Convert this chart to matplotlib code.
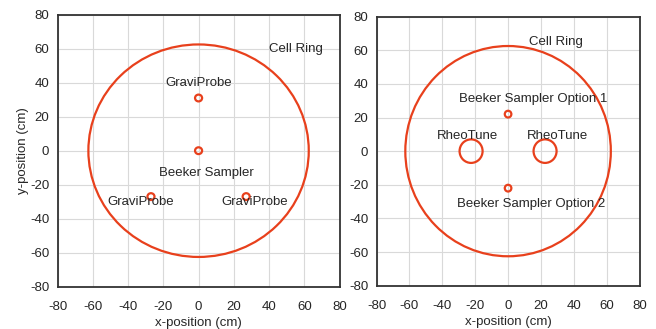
import matplotlib.pyplot as plt
from matplotlib.patches import Circle

plt.rcParams['font.family'] = ['Liberation Sans', 'DejaVu Sans']
plt.rcParams['axes.unicode_minus'] = False

# Layout of the measurement cell (cm)
ring_center = (0, 0)
ring_radius = 62.5

# Left panel: GraviProbes and beeker sampler
left_x = [0, 0, -27, 27]
left_y = [31, 0, -27, -27]
left_r = [2, 2, 2, 2]
left_labels = ['GraviProbe', 'Beeker Sampler', 'GraviProbe', 'GraviProbe']
left_label_x = [0, 4.5, -33, 32]
left_label_y = [40, -13, -30, -30]

# Right panel: RheoTunes and beeker sampler options
right_x = [0, 0, -22.5, 22.5]
right_y = [22, -22, 0, 0]
right_r = [2, 2, 7, 7]
right_labels = ['Beeker Sampler Option 1', 'Beeker Sampler Option 2', 'RheoTune', 'RheoTune']
right_label_x = [15, 14, -24.5, 30]
right_label_y = [31, -31.5, 9, 9]

ticks = list(range(-80, 81, 20))
red = '#e8401c'
ink = '#262626'

fig = plt.figure(figsize=(6.56, 3.29), dpi=100)
ax1 = fig.add_axes([0.0877, 0.1286, 0.430, 0.8267])
ax2 = fig.add_axes([0.574, 0.1316, 0.401, 0.818])


def draw_panel(ax, xs, ys, rs, labels, lx, ly, ring_label_pos):
    ax.add_patch(Circle(ring_center, ring_radius, fill=False, ec=red, lw=1.6))
    for x, y, r in zip(xs, ys, rs):
        ax.add_patch(Circle((x, y), r, fill=False, ec=red, lw=1.6))
    for t, x, y in zip(labels, lx, ly):
        ax.text(x, y, t, ha='center', va='center', fontsize=9.5, color=ink)
    ax.text(*ring_label_pos, 'Cell Ring', ha='center', va='center', fontsize=9.5, color=ink)
    ax.set_xlim(-80, 80)
    ax.set_ylim(-80, 80)
    ax.set_xticks(ticks)
    ax.set_yticks(ticks)
    ax.grid(True, color='#d9d9d9', lw=0.8)
    ax.set_axisbelow(True)
    ax.tick_params(length=0, labelsize=9.5, colors=ink)
    ax.tick_params(axis='y', pad=6)
    ax.tick_params(axis='x', pad=10)
    for s in ax.spines.values():
        s.set_color('#333333')
        s.set_linewidth(1.3)
    ax.set_xlabel('x-position (cm)', fontsize=9.5, color=ink, labelpad=3)


draw_panel(ax1, left_x, left_y, left_r, left_labels, left_label_x, left_label_y, (55, 60))
ax1.set_ylabel('y-position (cm)', fontsize=9.5, color=ink, labelpad=1)
draw_panel(ax2, right_x, right_y, right_r, right_labels, right_label_x, right_label_y, (29, 65))

fig.savefig('out.png', dpi=100)
